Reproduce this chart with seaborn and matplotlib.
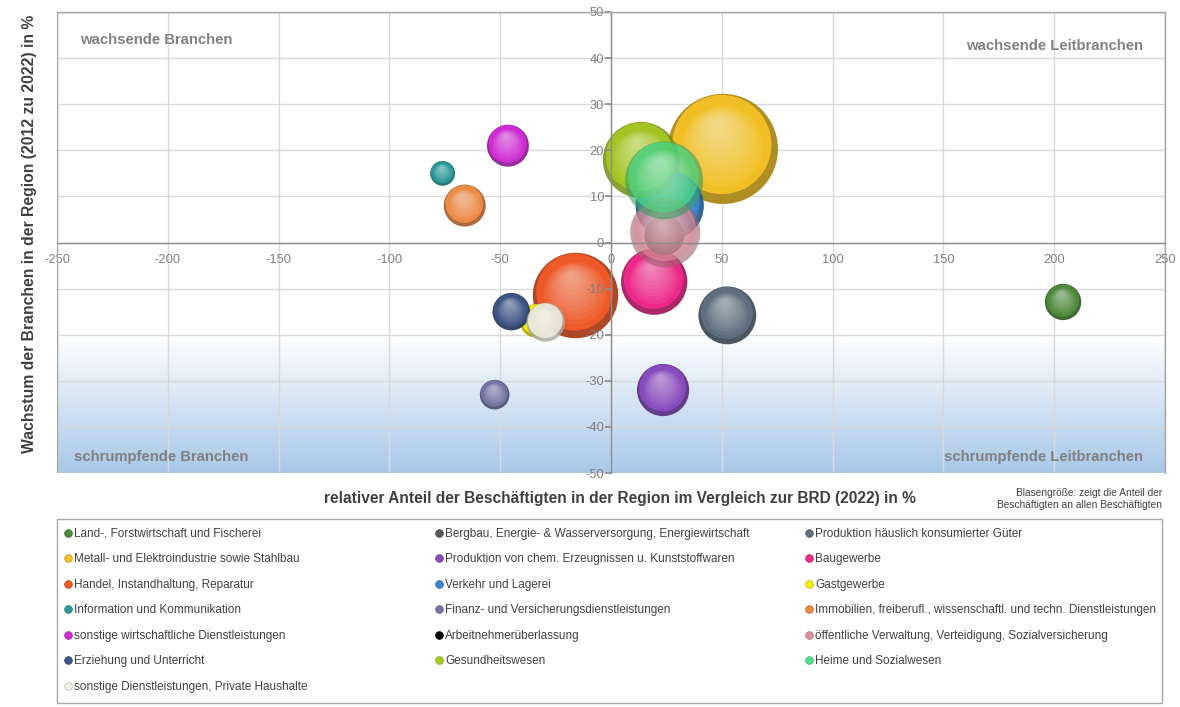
import numpy as np
import pandas as pd
import matplotlib
matplotlib.use("Agg")
import matplotlib.pyplot as plt
from matplotlib.path import Path
from matplotlib.lines import Line2D
from matplotlib.patches import Rectangle
from matplotlib.colors import LinearSegmentedColormap, to_rgb
import seaborn as sns

# Daten
branchen = [
    "Land-, Forstwirtschaft und Fischerei",
    "Bergbau, Energie- & Wasserversorgung, Energiewirtschaft",
    "Produktion häuslich konsumierter Güter",
    "Metall- und Elektroindustrie sowie Stahlbau",
    "Produktion von chem. Erzeugnissen u. Kunststoffwaren",
    "Baugewerbe",
    "Handel, Instandhaltung, Reparatur",
    "Verkehr und Lagerei",
    "Gastgewerbe",
    "Information und Kommunikation",
    "Finanz- und Versicherungsdienstleistungen",
    "Immobilien, freiberufl., wissenschaftl. und techn. Dienstleistungen",
    "sonstige wirtschaftliche Dienstleistungen",
    "Arbeitnehmerüberlassung",
    "öffentliche Verwaltung, Verteidigung, Sozialversicherung",
    "Erziehung und Unterricht",
    "Gesundheitswesen",
    "Heime und Sozialwesen",
    "sonstige Dienstleistungen, Private Haushalte",
]
rel_anteil = [204, np.nan, 52.5, 50.5, 23.5, 19.5, -16, 26.5, -33.5, -76, -52.5,
              -66, -46.5, 24, 24.5, -45, 13.5, 24, -29.5]
wachstum = [-12.9, np.nan, -15.8, 20.3, -32, -8.5, -11.5, 8, -17, 15, -33,
            8, 21, 1.5, 2.2, -15, 17.9, 13.5, -17.3]
anteil_besch = [1.5, np.nan, 3.8, 13.8, 3.1, 5.0, 8.3, 5.3, 1.3, 0.7, 1.0,
                2.0, 2.0, 1.8, 5.6, 1.6, 6.6, 6.9, 1.7]

farben = ["#4f8a3c", "#5a5a5a", "#5f7080", "#f5c225", "#8a4cc0", "#f02a8a",
          "#f25a28", "#3a86d2", "#f5f000", "#2a9a9a", "#7676a6", "#f08c48",
          "#d22ed8", "#000000", "#e0909a", "#3e5686", "#a8cc1e", "#4ee38a",
          "#f3f3e6"]
alphas = [0.95] * 19
alphas[16] = 0.85
alphas[17] = 0.6
alphas[14] = 0.6
alphas[18] = 0.8

df = pd.DataFrame({"branche": branchen, "x": rel_anteil, "y": wachstum,
                   "anteil": anteil_besch, "farbe": farben, "alpha": alphas})

sns.set_theme(style="white")
plt.rcParams["font.family"] = ["Liberation Sans", "DejaVu Sans"]
plt.rcParams["axes.unicode_minus"] = False

fig = plt.figure(figsize=(11.8, 7.07), dpi=100)
ax = fig.add_axes([57 / 1180, 1 - 473 / 707, 1108 / 1180, 461 / 707])

# blauer Verlauf im unteren Bereich
cmap = LinearSegmentedColormap.from_list("verlauf", ["#ffffff", "#a8c8e8"])
ax.imshow(np.linspace(1, 0, 200).reshape(-1, 1), cmap=cmap, extent=[-250, 250, -50, -20],
          aspect="auto", origin="lower", zorder=0)
ax.set_xlim(-250, 250)
ax.set_ylim(-50, 50)

for gx in range(-250, 251, 50):
    ax.axvline(gx, color="#d9d9d9", lw=1, zorder=0.5)
for gy in range(-50, 51, 10):
    ax.axhline(gy, color="#d9d9d9", lw=1, zorder=0.5)


def kreis(cx, cy, r):
    c = Path.circle((cx, cy), r)
    verts = np.vstack([[[-1, -1], [1, 1]], c.vertices])
    codes = [Path.MOVETO, Path.MOVETO] + list(c.codes)
    return Path(verts, codes)


def mische(c, ziel, t):
    c = np.array(to_rgb(c))
    return tuple(c + (np.array(to_rgb(ziel)) - c) * t)


skala = 456  # Punkte^2 je Prozent Beschaeftigtenanteil
for _, row in df.dropna().iterrows():
    s = row["anteil"] * skala
    a = row["alpha"]
    pt = pd.DataFrame({"x": [row["x"]], "y": [row["y"]]})
    schichten = [(kreis(0, 0, 1), mische(row["farbe"], "black", 0.3), a),
                 (kreis(-0.02, 0.08, 0.9), row["farbe"], a)]
    n = 10
    for k in range(1, n + 1):
        t = k / n
        schichten.append((kreis(-0.1 * t, 0.45 * t, 0.8 - 0.7 * t), "white", 0.06))
    for m, col, al in schichten:
        sns.scatterplot(data=pt, x="x", y="y", s=s, marker=m, color=col, alpha=al,
                        edgecolor="none", linewidth=0, ax=ax, legend=False)

# Achsen durch den Nullpunkt
ax.set_axisbelow(False)
ax.spines["left"].set_position(("data", 0))
ax.spines["bottom"].set_position(("data", 0))
for sp in ["left", "bottom"]:
    ax.spines[sp].set_color("#8c8c8c")
    ax.spines[sp].set_linewidth(1)
for sp in ["top", "right"]:
    ax.spines[sp].set_color("#a6a6a6")
    ax.spines[sp].set_linewidth(1)
ax.add_patch(Rectangle((0, 0), 1, 1, transform=ax.transAxes, fill=False,
                       ec="#a6a6a6", lw=1, zorder=3))
ax.set_xticks(range(-250, 251, 50))
ax.set_yticks(range(-50, 51, 10))
ax.tick_params(axis="y", direction="out", length=4, color="#8c8c8c", labelcolor="#7f7f7f",
               labelsize=9.3, pad=1, left=True)
ax.tick_params(axis="x", direction="out", length=0, labelcolor="#7f7f7f",
               labelsize=9.3, pad=8)
ax.set_xlabel("")
ax.set_ylabel("")

# Quadranten-Beschriftung
qk = dict(color="#808080", fontsize=10.7, fontweight="bold", transform=ax.transAxes)
ax.text(0.021, 0.94, "wachsende Branchen", ha="left", va="center", **qk)
ax.text(0.98, 0.927, "wachsende Leitbranchen", ha="right", va="center", **qk)
ax.text(0.015, 0.035, "schrumpfende Branchen", ha="left", va="center", **qk)
ax.text(0.98, 0.035, "schrumpfende Leitbranchen", ha="right", va="center", **qk)

fig.text(620 / 1180, 1 - 498 / 707,
         "relativer Anteil der Beschäftigten in der Region im Vergleich zur BRD (2022) in %",
         ha="center", va="center", fontsize=11.2, fontweight="bold", color="#404040")
fig.text(30 / 1180, 1 - 234 / 707,
         "Wachstum der Branchen in der Region (2012 zu 2022) in %", rotation=90,
         ha="center", va="center", fontsize=11.3, fontweight="bold", color="#404040")
fig.text(1162 / 1180, 1 - 499 / 707,
         "Blasengröße: zeigt die Anteil der\nBeschäftigten an allen Beschäftigten",
         ha="right", va="center", fontsize=7.3, color="#404040", linespacing=1.3)

# Legende (drei Spalten, zeilenweise gefuellt)
fig.add_artist(Rectangle((57 / 1180, 1 - 703 / 707), 1105 / 1180, 184 / 707,
                         transform=fig.transFigure, fill=False, ec="#a6a6a6", lw=1))
handles = [Line2D([], [], ls="none", marker="o", ms=5.5, mfc=c, mec=mische(c, "black", 0.2),
                  mew=0.6) for c in farben]
for j, x0 in enumerate([64, 435, 805]):
    leg = fig.legend(handles[j::3], branchen[j::3], loc="upper left",
                     bbox_to_anchor=(x0 / 1180, 1 - 528 / 707), frameon=False,
                     fontsize=8.5, labelspacing=1.14, handlelength=0.6,
                     handletextpad=0.25, borderaxespad=0, borderpad=0)
    for t in leg.get_texts():
        t.set_color("#404040")

fig.savefig("out.png", dpi=100, facecolor="white")
